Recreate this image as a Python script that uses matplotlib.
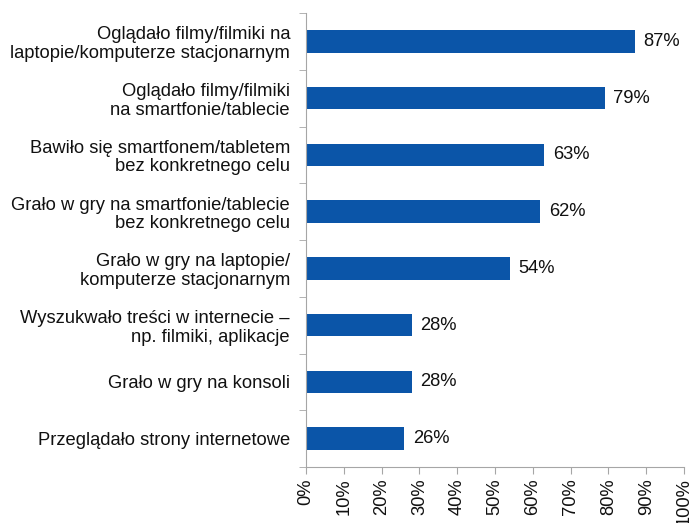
import matplotlib.pyplot as plt
import numpy as np

plt.rcParams['font.family'] = ['Liberation Sans', 'DejaVu Sans']

categories = [
    'Oglądało filmy/filmiki na\nlaptopie/komputerze stacjonarnym',
    'Oglądało filmy/filmiki\nna smartfonie/tablecie',
    'Bawiło się smartfonem/tabletem\nbez konkretnego celu',
    'Grało w gry na smartfonie/tablecie\nbez konkretnego celu',
    'Grało w gry na laptopie/\nkomputerze stacjonarnym',
    'Wyszukwało treści w internecie –\nnp. filmiki, aplikacje',
    'Grało w gry na konsoli',
    'Przeglądało strony internetowe',
]
values = [87, 79, 63, 62, 54, 28, 28, 26]
xticks = [0, 10, 20, 30, 40, 50, 60, 70, 80, 90, 100]

fs = 13.2
fig = plt.figure(figsize=(6.92, 5.23), dpi=100)
ax = fig.add_axes([306 / 692, 1 - 467 / 523, 378 / 692, 454 / 523])

y = np.arange(len(categories))
ax.barh(y, values, height=0.4, color='#0B55A8')
for yi, v in zip(y, values):
    ax.text(v + 2.3, yi, f'{v}%', va='center', ha='left', fontsize=fs, color='#111111')

ax.set_xlim(0, 100)
ax.set_ylim(len(categories) - 0.5, -0.5)
ax.set_xticks(xticks)
ax.set_xticklabels([f'{t}%' for t in xticks], rotation=90, fontsize=fs, color='#111111')

ax.set_yticks(y)
ax.set_yticklabels(categories, fontsize=fs, ha='right', color='#111111', linespacing=1.12)
ax.set_yticks(np.arange(-0.5, len(categories)), minor=True)
ax.tick_params(axis='y', which='major', length=0, pad=11.5)
ax.tick_params(axis='y', which='minor', length=5, color='#A6A6A6')
ax.tick_params(axis='x', length=5, color='#A6A6A6', pad=3)

for s in ['top', 'right']:
    ax.spines[s].set_visible(False)
for s in ['left', 'bottom']:
    ax.spines[s].set_color('#A6A6A6')

fig.savefig('out.png', dpi=100)
